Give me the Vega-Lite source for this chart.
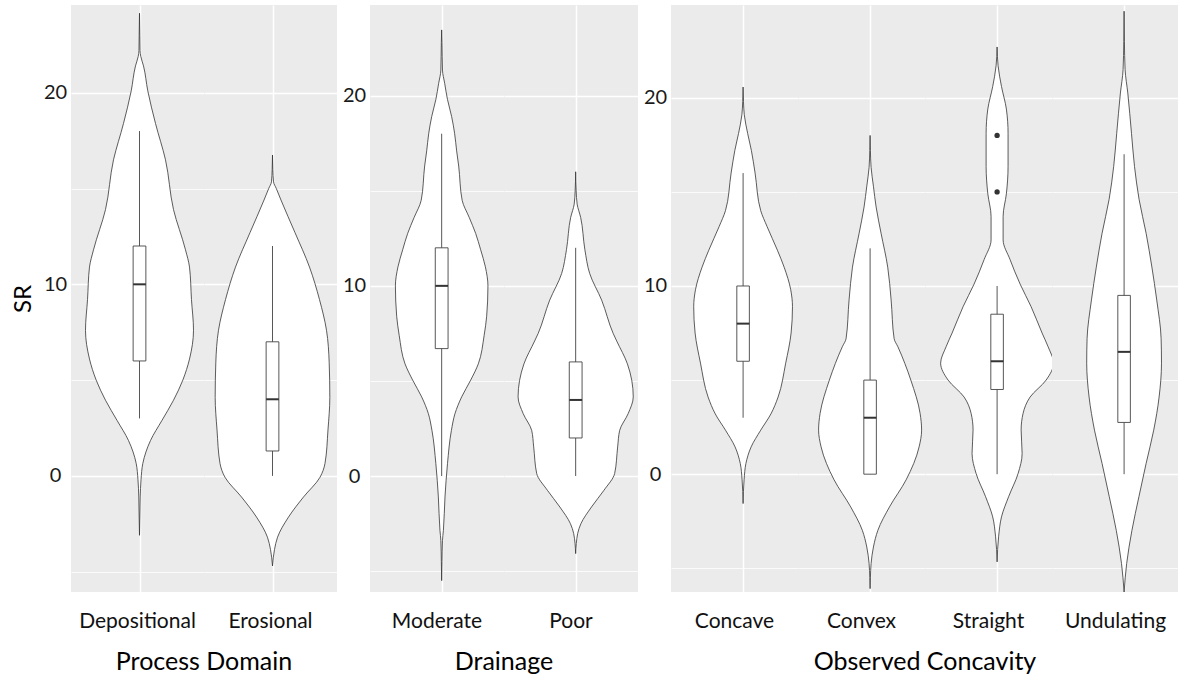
{
  "$schema": "https://vega.github.io/schema/vega-lite/v6.json",
  "background": "white",
  "padding": {"left": 11, "top": 5, "right": 0, "bottom": 0},
  "spacing": 5,
  "config": {
    "font": "Lato",
    "view": {"fill": "#EBEBEB", "stroke": null},
    "axisX": {"grid": true, "gridColor": "white", "gridWidth": 1.5, "labels": false, "ticks": false, "domain": false},
    "header": {
      "labelOrient": "bottom", "titleOrient": "bottom",
      "labelFont": "Lato", "labelFontSize": 21, "labelColor": "#111111", "labelPadding": 19,
      "titleFont": "Lato", "titleFontSize": 25, "titleFontWeight": "normal", "titleColor": "#000000", "titlePadding": 8
    }
  },
  "datasets": {
    "process": [
      {"cat": "Depositional", "SR": 24.15, "width": 0},
      {"cat": "Depositional", "SR": 23.0, "width": 0.005},
      {"cat": "Depositional", "SR": 22.2, "width": 0.008},
      {"cat": "Depositional", "SR": 21.9, "width": 0.02},
      {"cat": "Depositional", "SR": 21.4, "width": 0.063},
      {"cat": "Depositional", "SR": 20.1, "width": 0.13},
      {"cat": "Depositional", "SR": 18.4, "width": 0.251},
      {"cat": "Depositional", "SR": 16.5, "width": 0.408},
      {"cat": "Depositional", "SR": 13.9, "width": 0.534},
      {"cat": "Depositional", "SR": 11.8, "width": 0.722},
      {"cat": "Depositional", "SR": 10.9, "width": 0.785},
      {"cat": "Depositional", "SR": 9.2, "width": 0.816},
      {"cat": "Depositional", "SR": 7.6, "width": 0.848},
      {"cat": "Depositional", "SR": 6.1, "width": 0.785},
      {"cat": "Depositional", "SR": 5.0, "width": 0.68},
      {"cat": "Depositional", "SR": 3.95, "width": 0.534},
      {"cat": "Depositional", "SR": 2.9, "width": 0.353},
      {"cat": "Depositional", "SR": 1.85, "width": 0.173},
      {"cat": "Depositional", "SR": 0.65, "width": 0.052},
      {"cat": "Depositional", "SR": -0.2, "width": 0.024},
      {"cat": "Depositional", "SR": -1.1, "width": 0.011},
      {"cat": "Depositional", "SR": -2.2, "width": 0.005},
      {"cat": "Depositional", "SR": -3.1, "width": 0},
      {"cat": "Erosional", "SR": 16.75, "width": 0},
      {"cat": "Erosional", "SR": 16.0, "width": 0.005},
      {"cat": "Erosional", "SR": 15.35, "width": 0.016},
      {"cat": "Erosional", "SR": 15.0, "width": 0.06},
      {"cat": "Erosional", "SR": 14.4, "width": 0.133},
      {"cat": "Erosional", "SR": 12.7, "width": 0.353},
      {"cat": "Erosional", "SR": 10.9, "width": 0.581},
      {"cat": "Erosional", "SR": 9.2, "width": 0.738},
      {"cat": "Erosional", "SR": 7.6, "width": 0.848},
      {"cat": "Erosional", "SR": 5.9, "width": 0.89},
      {"cat": "Erosional", "SR": 4.1, "width": 0.9},
      {"cat": "Erosional", "SR": 2.4, "width": 0.871},
      {"cat": "Erosional", "SR": 0.65, "width": 0.824},
      {"cat": "Erosional", "SR": -0.07, "width": 0.746},
      {"cat": "Erosional", "SR": -1.1, "width": 0.487},
      {"cat": "Erosional", "SR": -2.15, "width": 0.251},
      {"cat": "Erosional", "SR": -3.2, "width": 0.079},
      {"cat": "Erosional", "SR": -3.85, "width": 0.031},
      {"cat": "Erosional", "SR": -4.7, "width": 0},
      {"cat": "Depositional", "lower": 3, "q1": 6, "median": 10, "q3": 12, "upper": 18},
      {"cat": "Erosional", "lower": 0, "q1": 1.3, "median": 4, "q3": 7, "upper": 12}
    ],
    "drainage": [
      {"cat": "Moderate", "SR": 23.46, "width": 0},
      {"cat": "Moderate", "SR": 22.8, "width": 0.005},
      {"cat": "Moderate", "SR": 21.35, "width": 0.0125},
      {"cat": "Moderate", "SR": 20.65, "width": 0.047},
      {"cat": "Moderate", "SR": 19.8, "width": 0.091},
      {"cat": "Moderate", "SR": 18.9, "width": 0.156},
      {"cat": "Moderate", "SR": 18.0, "width": 0.203},
      {"cat": "Moderate", "SR": 17.1, "width": 0.234},
      {"cat": "Moderate", "SR": 16.3, "width": 0.266},
      {"cat": "Moderate", "SR": 14.5, "width": 0.32},
      {"cat": "Moderate", "SR": 13.6, "width": 0.43},
      {"cat": "Moderate", "SR": 12.76, "width": 0.531},
      {"cat": "Moderate", "SR": 11.9, "width": 0.609},
      {"cat": "Moderate", "SR": 11.0, "width": 0.683},
      {"cat": "Moderate", "SR": 10.0, "width": 0.723},
      {"cat": "Moderate", "SR": 8.4, "width": 0.703},
      {"cat": "Moderate", "SR": 7.4, "width": 0.664},
      {"cat": "Moderate", "SR": 5.9, "width": 0.573},
      {"cat": "Moderate", "SR": 5.04, "width": 0.453},
      {"cat": "Moderate", "SR": 4.16, "width": 0.3125},
      {"cat": "Moderate", "SR": 3.28, "width": 0.208},
      {"cat": "Moderate", "SR": 2.4, "width": 0.152},
      {"cat": "Moderate", "SR": 0.65, "width": 0.091},
      {"cat": "Moderate", "SR": -1.1, "width": 0.052},
      {"cat": "Moderate", "SR": -2.86, "width": 0.027},
      {"cat": "Moderate", "SR": -3.4, "width": 0.0125},
      {"cat": "Moderate", "SR": -4.5, "width": 0.005},
      {"cat": "Moderate", "SR": -5.5, "width": 0},
      {"cat": "Poor", "SR": 16.0, "width": 0},
      {"cat": "Poor", "SR": 15.0, "width": 0.008},
      {"cat": "Poor", "SR": 14.3, "width": 0.023},
      {"cat": "Poor", "SR": 13.6, "width": 0.078},
      {"cat": "Poor", "SR": 11.9, "width": 0.144},
      {"cat": "Poor", "SR": 10.65, "width": 0.219},
      {"cat": "Poor", "SR": 9.25, "width": 0.406},
      {"cat": "Poor", "SR": 7.5, "width": 0.586},
      {"cat": "Poor", "SR": 7.1, "width": 0.641},
      {"cat": "Poor", "SR": 5.9, "width": 0.808},
      {"cat": "Poor", "SR": 4.16, "width": 0.9},
      {"cat": "Poor", "SR": 3.28, "width": 0.82},
      {"cat": "Poor", "SR": 2.4, "width": 0.6875},
      {"cat": "Poor", "SR": 1.53, "width": 0.656},
      {"cat": "Poor", "SR": 0.13, "width": 0.609},
      {"cat": "Poor", "SR": -0.75, "width": 0.442},
      {"cat": "Poor", "SR": -1.63, "width": 0.247},
      {"cat": "Poor", "SR": -2.5, "width": 0.083},
      {"cat": "Poor", "SR": -3.03, "width": 0.031},
      {"cat": "Poor", "SR": -4.08, "width": 0},
      {"cat": "Moderate", "lower": 0, "q1": 6.7, "median": 10, "q3": 12, "upper": 18},
      {"cat": "Poor", "lower": 0, "q1": 2, "median": 4, "q3": 6, "upper": 12}
    ],
    "concavity": [
      {"cat": "Concave", "SR": 20.57, "width": 0},
      {"cat": "Concave", "SR": 19.8, "width": 0.006},
      {"cat": "Concave", "SR": 19.1, "width": 0.019},
      {"cat": "Concave", "SR": 18.1, "width": 0.073},
      {"cat": "Concave", "SR": 17.2, "width": 0.132},
      {"cat": "Concave", "SR": 16.0, "width": 0.191},
      {"cat": "Concave", "SR": 14.0, "width": 0.281},
      {"cat": "Concave", "SR": 13.15, "width": 0.383},
      {"cat": "Concave", "SR": 11.9, "width": 0.547},
      {"cat": "Concave", "SR": 11.0, "width": 0.654},
      {"cat": "Concave", "SR": 9.8, "width": 0.759},
      {"cat": "Concave", "SR": 8.9, "width": 0.787},
      {"cat": "Concave", "SR": 7.5, "width": 0.765},
      {"cat": "Concave", "SR": 5.9, "width": 0.679},
      {"cat": "Concave", "SR": 4.1, "width": 0.558},
      {"cat": "Concave", "SR": 3.2, "width": 0.443},
      {"cat": "Concave", "SR": 2.34, "width": 0.281},
      {"cat": "Concave", "SR": 1.45, "width": 0.128},
      {"cat": "Concave", "SR": 0.57, "width": 0.045},
      {"cat": "Concave", "SR": -0.3, "width": 0.016},
      {"cat": "Concave", "SR": -1.56, "width": 0},
      {"cat": "Convex", "SR": 18.0, "width": 0},
      {"cat": "Convex", "SR": 17.2, "width": 0.005},
      {"cat": "Convex", "SR": 16.3, "width": 0.016},
      {"cat": "Convex", "SR": 15.3, "width": 0.053},
      {"cat": "Convex", "SR": 14.2, "width": 0.096},
      {"cat": "Convex", "SR": 12.8, "width": 0.175},
      {"cat": "Convex", "SR": 11.0, "width": 0.281},
      {"cat": "Convex", "SR": 9.26, "width": 0.335},
      {"cat": "Convex", "SR": 7.2, "width": 0.383},
      {"cat": "Convex", "SR": 6.77, "width": 0.443},
      {"cat": "Convex", "SR": 5.0, "width": 0.649},
      {"cat": "Convex", "SR": 3.23, "width": 0.797},
      {"cat": "Convex", "SR": 2.34, "width": 0.821},
      {"cat": "Convex", "SR": 1.45, "width": 0.781},
      {"cat": "Convex", "SR": -0.3, "width": 0.574},
      {"cat": "Convex", "SR": -1.74, "width": 0.309},
      {"cat": "Convex", "SR": -2.98, "width": 0.124},
      {"cat": "Convex", "SR": -3.87, "width": 0.053},
      {"cat": "Convex", "SR": -4.75, "width": 0.016},
      {"cat": "Convex", "SR": -5.5, "width": 0.005},
      {"cat": "Convex", "SR": -6.08, "width": 0},
      {"cat": "Straight", "SR": 22.7, "width": 0},
      {"cat": "Straight", "SR": 22.2, "width": 0.005},
      {"cat": "Straight", "SR": 21.7, "width": 0.016},
      {"cat": "Straight", "SR": 20.6, "width": 0.07},
      {"cat": "Straight", "SR": 19.4, "width": 0.148},
      {"cat": "Straight", "SR": 18.1, "width": 0.175},
      {"cat": "Straight", "SR": 16.35, "width": 0.175},
      {"cat": "Straight", "SR": 14.9, "width": 0.148},
      {"cat": "Straight", "SR": 13.7, "width": 0.096},
      {"cat": "Straight", "SR": 12.45, "width": 0.096},
      {"cat": "Straight", "SR": 11.4, "width": 0.207},
      {"cat": "Straight", "SR": 10.1, "width": 0.367},
      {"cat": "Straight", "SR": 8.9, "width": 0.542},
      {"cat": "Straight", "SR": 7.5, "width": 0.717},
      {"cat": "Straight", "SR": 6.77, "width": 0.813},
      {"cat": "Straight", "SR": 5.9, "width": 0.9},
      {"cat": "Straight", "SR": 5.0, "width": 0.781},
      {"cat": "Straight", "SR": 4.1, "width": 0.526},
      {"cat": "Straight", "SR": 3.23, "width": 0.414},
      {"cat": "Straight", "SR": 2.34, "width": 0.383},
      {"cat": "Straight", "SR": 1.1, "width": 0.399},
      {"cat": "Straight", "SR": 0.04, "width": 0.335},
      {"cat": "Straight", "SR": -1.2, "width": 0.183},
      {"cat": "Straight", "SR": -2.27, "width": 0.07},
      {"cat": "Straight", "SR": -3.33, "width": 0.024},
      {"cat": "Straight", "SR": -4.66, "width": 0},
      {"cat": "Undulating", "SR": 24.6, "width": 0},
      {"cat": "Undulating", "SR": 23.0, "width": 0.005},
      {"cat": "Undulating", "SR": 21.5, "width": 0.016},
      {"cat": "Undulating", "SR": 20.25, "width": 0.059},
      {"cat": "Undulating", "SR": 18.1, "width": 0.118},
      {"cat": "Undulating", "SR": 16.35, "width": 0.166},
      {"cat": "Undulating", "SR": 14.6, "width": 0.239},
      {"cat": "Undulating", "SR": 12.8, "width": 0.351},
      {"cat": "Undulating", "SR": 11.0, "width": 0.443},
      {"cat": "Undulating", "SR": 9.26, "width": 0.52},
      {"cat": "Undulating", "SR": 7.2, "width": 0.59},
      {"cat": "Undulating", "SR": 5.9, "width": 0.596},
      {"cat": "Undulating", "SR": 4.1, "width": 0.558},
      {"cat": "Undulating", "SR": 2.34, "width": 0.472},
      {"cat": "Undulating", "SR": 0.57, "width": 0.351},
      {"cat": "Undulating", "SR": -1.2, "width": 0.236},
      {"cat": "Undulating", "SR": -3.0, "width": 0.124},
      {"cat": "Undulating", "SR": -4.75, "width": 0.041},
      {"cat": "Undulating", "SR": -6.26, "width": 0},
      {"cat": "Concave", "lower": 3, "q1": 6, "median": 8, "q3": 10, "upper": 16},
      {"cat": "Convex", "lower": 0, "q1": 0, "median": 3, "q3": 5, "upper": 12},
      {"cat": "Straight", "lower": 0, "q1": 4.5, "median": 6, "q3": 8.5, "upper": 10},
      {"cat": "Undulating", "lower": 0, "q1": 2.75, "median": 6.5, "q3": 9.5, "upper": 17},
      {"cat": "Straight", "outlier": 18},
      {"cat": "Straight", "outlier": 15}
    ]
  },
  "hconcat": [
    {
      "data": {"name": "process"},
      "transform": [{"stack": "width", "groupby": ["cat", "SR"], "offset": "center", "as": ["w0", "w1"]}],
      "facet": {"column": {"field": "cat", "type": "nominal", "title": "Process Domain"}},
      "spacing": {"column": 0},
      "bounds": "flush",
      "spec": {
        "width": 133,
        "height": 587,
        "layer": [
          {
            "transform": [{"filter": "isValid(datum.width)"}],
            "mark": {"type": "area", "orient": "horizontal", "interpolate": "monotone", "fill": "white", "stroke": "#333333", "strokeWidth": 0.8},
            "encoding": {
              "y": {
                "field": "SR", "type": "quantitative", "title": "SR",
                "scale": {"domain": [-6.06, 24.58], "nice": false, "zero": false},
                "axis": {
                  "title": "SR", "titleFontSize": 24, "titleFontWeight": "normal", "titleColor": "#000000", "titlePadding": 8,
                  "values": [-5, 0, 5, 10, 15, 20],
                  "labelExpr": "datum.value % 10 === 0 ? datum.label : ''",
                  "grid": true, "gridColor": "white",
                  "gridWidth": {"condition": {"test": "datum.value % 10 === 0", "value": 1.6}, "value": 0.8},
                  "domain": false, "ticks": false,
                  "labelAlign": "center", "labelPadding": 16, "labelFontSize": 20, "labelColor": "#1a1a1a"
                }
              },
              "x": {
                "field": "w0", "type": "quantitative", "title": null,
                "scale": {"domain": [-0.0877, 0.9563], "nice": false, "zero": false},
                "axis": {"values": [0.45], "title": null}
              },
              "x2": {"field": "w1"}
            }
          },
          {
            "transform": [{"filter": "isValid(datum.median)"}],
            "mark": {"type": "rule", "stroke": "#444444", "strokeWidth": 0.9},
            "encoding": {
              "x": {"datum": 0.45, "title": null},
              "y": {"field": "lower", "type": "quantitative", "title": "SR"},
              "y2": {"field": "upper"}
            }
          },
          {
            "transform": [{"filter": "isValid(datum.median)"}],
            "mark": {"type": "bar", "fill": "white", "stroke": "#444444", "strokeWidth": 0.9},
            "encoding": {
              "x": {"datum": 0.4, "title": null},
              "x2": {"datum": 0.5},
              "y": {"field": "q1", "type": "quantitative", "title": "SR"},
              "y2": {"field": "q3"}
            }
          },
          {
            "transform": [{"filter": "isValid(datum.median)"}],
            "mark": {"type": "rule", "stroke": "#333333", "strokeWidth": 2},
            "encoding": {
              "x": {"datum": 0.4, "title": null},
              "x2": {"datum": 0.5},
              "y": {"field": "median", "type": "quantitative", "title": "SR"}
            }
          }
        ]
      }
    },
    {
      "data": {"name": "drainage"},
      "transform": [{"stack": "width", "groupby": ["cat", "SR"], "offset": "center", "as": ["w0", "w1"]}],
      "facet": {"column": {"field": "cat", "type": "nominal", "title": "Drainage"}},
      "spacing": {"column": 0},
      "bounds": "flush",
      "spec": {
        "width": 134,
        "height": 587,
        "layer": [
          {
            "transform": [{"filter": "isValid(datum.width)"}],
            "mark": {"type": "area", "orient": "horizontal", "interpolate": "monotone", "fill": "white", "stroke": "#333333", "strokeWidth": 0.8},
            "encoding": {
              "y": {
                "field": "SR", "type": "quantitative", "title": null,
                "scale": {"domain": [-6.1, 24.77], "nice": false, "zero": false},
                "axis": {
                  "title": null,
                  "values": [-5, 0, 5, 10, 15, 20],
                  "labelExpr": "datum.value % 10 === 0 ? datum.label : ''",
                  "grid": true, "gridColor": "white",
                  "gridWidth": {"condition": {"test": "datum.value % 10 === 0", "value": 1.6}, "value": 0.8},
                  "domain": false, "ticks": false,
                  "labelAlign": "center", "labelPadding": 16, "labelFontSize": 20, "labelColor": "#1a1a1a"
                }
              },
              "x": {
                "field": "w0", "type": "quantitative", "title": null,
                "scale": {"domain": [-0.11, 0.937], "nice": false, "zero": false},
                "axis": {"values": [0.45], "title": null}
              },
              "x2": {"field": "w1"}
            }
          },
          {
            "transform": [{"filter": "isValid(datum.median)"}],
            "mark": {"type": "rule", "stroke": "#444444", "strokeWidth": 0.9},
            "encoding": {
              "x": {"datum": 0.45, "title": null},
              "y": {"field": "lower", "type": "quantitative", "title": null},
              "y2": {"field": "upper"}
            }
          },
          {
            "transform": [{"filter": "isValid(datum.median)"}],
            "mark": {"type": "bar", "fill": "white", "stroke": "#444444", "strokeWidth": 0.9},
            "encoding": {
              "x": {"datum": 0.4, "title": null},
              "x2": {"datum": 0.5},
              "y": {"field": "q1", "type": "quantitative", "title": null},
              "y2": {"field": "q3"}
            }
          },
          {
            "transform": [{"filter": "isValid(datum.median)"}],
            "mark": {"type": "rule", "stroke": "#333333", "strokeWidth": 2},
            "encoding": {
              "x": {"datum": 0.4, "title": null},
              "x2": {"datum": 0.5},
              "y": {"field": "median", "type": "quantitative", "title": null}
            }
          }
        ]
      }
    },
    {
      "data": {"name": "concavity"},
      "transform": [{"stack": "width", "groupby": ["cat", "SR"], "offset": "center", "as": ["w0", "w1"]}],
      "facet": {"column": {"field": "cat", "type": "nominal", "title": "Observed Concavity"}},
      "spacing": {"column": 0},
      "bounds": "flush",
      "spec": {
        "width": 127,
        "height": 587,
        "layer": [
          {
            "transform": [{"filter": "isValid(datum.width)"}],
            "mark": {"type": "area", "orient": "horizontal", "interpolate": "monotone", "fill": "white", "stroke": "#333333", "strokeWidth": 0.8},
            "encoding": {
              "y": {
                "field": "SR", "type": "quantitative", "title": null,
                "scale": {"domain": [-6.26, 24.93], "nice": false, "zero": false},
                "axis": {
                  "title": null,
                  "values": [-5, 0, 5, 10, 15, 20],
                  "labelExpr": "datum.value % 10 === 0 ? datum.label : ''",
                  "grid": true, "gridColor": "white",
                  "gridWidth": {"condition": {"test": "datum.value % 10 === 0", "value": 1.6}, "value": 0.8},
                  "domain": false, "ticks": false,
                  "labelAlign": "center", "labelPadding": 16, "labelFontSize": 20, "labelColor": "#1a1a1a"
                }
              },
              "x": {
                "field": "w0", "type": "quantitative", "title": null,
                "scale": {"domain": [-0.1245, 0.8875], "nice": false, "zero": false},
                "axis": {"values": [0.45], "title": null}
              },
              "x2": {"field": "w1"}
            }
          },
          {
            "transform": [{"filter": "isValid(datum.median)"}],
            "mark": {"type": "rule", "stroke": "#444444", "strokeWidth": 0.9},
            "encoding": {
              "x": {"datum": 0.45, "title": null},
              "y": {"field": "lower", "type": "quantitative", "title": null},
              "y2": {"field": "upper"}
            }
          },
          {
            "transform": [{"filter": "isValid(datum.median)"}],
            "mark": {"type": "bar", "fill": "white", "stroke": "#444444", "strokeWidth": 0.9},
            "encoding": {
              "x": {"datum": 0.4, "title": null},
              "x2": {"datum": 0.5},
              "y": {"field": "q1", "type": "quantitative", "title": null},
              "y2": {"field": "q3"}
            }
          },
          {
            "transform": [{"filter": "isValid(datum.median)"}],
            "mark": {"type": "rule", "stroke": "#333333", "strokeWidth": 2},
            "encoding": {
              "x": {"datum": 0.4, "title": null},
              "x2": {"datum": 0.5},
              "y": {"field": "median", "type": "quantitative", "title": null}
            }
          },
          {
            "transform": [{"filter": "isValid(datum.outlier)"}],
            "mark": {"type": "circle", "fill": "#333333", "size": 28, "opacity": 1},
            "encoding": {
              "x": {"datum": 0.45, "title": null},
              "y": {"field": "outlier", "type": "quantitative", "title": null}
            }
          }
        ]
      }
    }
  ]
}
